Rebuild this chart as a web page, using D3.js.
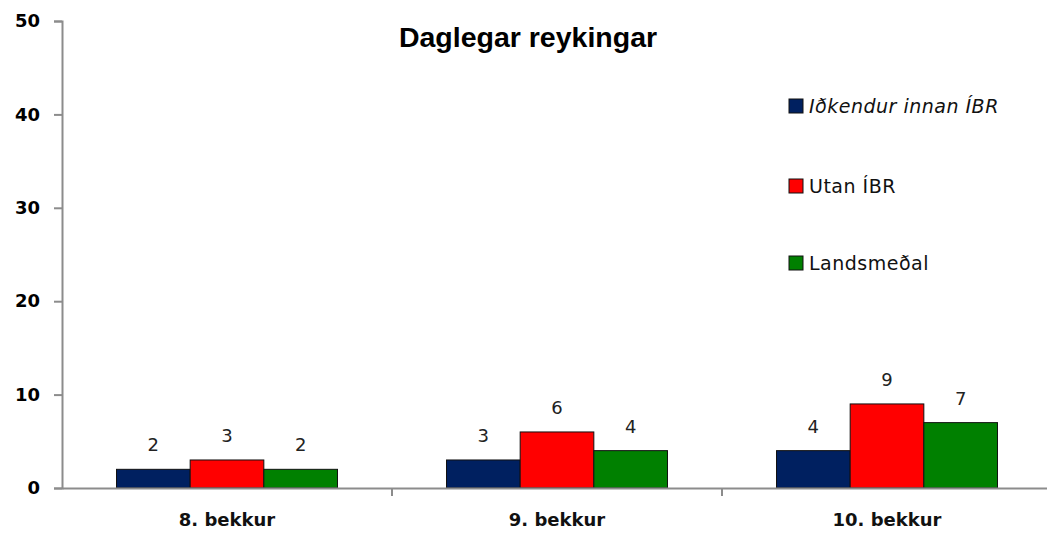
<!DOCTYPE html>
<html>
<head>
<meta charset="utf-8">
<script src="https://cdn.jsdelivr.net/npm/d3@7"></script>
<style>
  html, body { margin: 0; padding: 0; background: #fff; }
  svg { display: block; }
</style>
</head>
<body>
<svg id="chart" width="1047" height="533"></svg>
<script>
const title = "Daglegar reykingar";
const categories = ["8. bekkur", "9. bekkur", "10. bekkur"];
const seriesNames = ["Iðkendur innan ÍBR", "Utan ÍBR", "Landsmeðal"];
const seriesColors = ["#002060", "#FF0000", "#008000"];
const innanIBR = [2, 3, 4];
const utanIBR = [3, 6, 9];
const landsmedal = [2, 4, 7];
const yTicks = [0, 10, 20, 30, 40, 50];

const seriesValues = [innanIBR, utanIBR, landsmedal];

const svg = d3.select("#chart");
const mLeft = 62, mRight = 1052, mTop = 21, mBottom = 488;

const x = d3.scaleBand().domain(categories).range([mLeft, mRight]).padding(0);
const xs = d3.scaleBand().domain(seriesNames).range([0, x.bandwidth()])
  .paddingInner(0).paddingOuter(0.74);
const y = d3.scaleLinear().domain([0, 50]).range([mBottom, mTop]);

// Y axis
const yAxis = svg.append("g").attr("transform", `translate(${mLeft},0)`)
  .call(d3.axisLeft(y).tickValues(yTicks).tickSize(8).tickPadding(14));
yAxis.select(".domain").attr("stroke", "#8c8c8c").attr("stroke-width", 2);
yAxis.selectAll(".tick line").attr("stroke", "#8c8c8c").attr("stroke-width", 2);
yAxis.selectAll(".tick text")
  .attr("font-family", "DejaVu Sans").attr("font-weight", "bold")
  .attr("font-size", 18).attr("fill", "#000");

// Bars
const groups = svg.append("g").selectAll("g").data(categories).join("g")
  .attr("transform", d => `translate(${x(d)},0)`);

groups.selectAll("rect")
  .data((c, ci) => seriesNames.map((s, si) => ({ s, si, v: seriesValues[si][ci] })))
  .join("rect")
  .attr("x", d => xs(d.s))
  .attr("y", d => y(d.v))
  .attr("width", xs.bandwidth())
  .attr("height", d => y(0) - y(d.v))
  .attr("fill", d => seriesColors[d.si])
  .attr("stroke", "#111")
  .attr("stroke-width", 1);

groups.selectAll("text.val")
  .data((c, ci) => seriesNames.map((s, si) => ({ s, si, v: seriesValues[si][ci] })))
  .join("text")
  .attr("class", "val")
  .attr("x", d => xs(d.s) + xs.bandwidth() / 2)
  .attr("y", d => y(d.v) - 18)
  .attr("text-anchor", "middle")
  .attr("font-family", "DejaVu Sans")
  .attr("font-size", 18)
  .attr("fill", "#222")
  .text(d => d.v);

// X axis
const xAxis = svg.append("g").attr("transform", `translate(0,${mBottom})`)
  .call(d3.axisBottom(x).tickSize(0).tickPadding(25));
xAxis.select(".domain").attr("stroke", "#8c8c8c").attr("stroke-width", 2);
xAxis.selectAll(".tick text")
  .attr("font-family", "DejaVu Sans").attr("font-weight", "bold")
  .attr("font-size", 18).attr("fill", "#111");
// category boundary ticks
svg.append("g").selectAll("line").data(categories.slice(1)).join("line")
  .attr("x1", d => x(d)).attr("x2", d => x(d))
  .attr("y1", mBottom).attr("y2", mBottom + 8)
  .attr("stroke", "#8c8c8c").attr("stroke-width", 2);

// Title
svg.append("text")
  .attr("x", 528).attr("y", 47)
  .attr("text-anchor", "middle")
  .attr("font-family", "Liberation Sans").attr("font-weight", "bold")
  .attr("font-size", 28.5).attr("fill", "#000")
  .text(title);

// Legend
const legendY = [106, 186, 263];
const legend = svg.append("g").selectAll("g").data(seriesNames).join("g")
  .attr("transform", (d, i) => `translate(789,${legendY[i]})`);
legend.append("rect")
  .attr("x", 0).attr("y", -7).attr("width", 14).attr("height", 14)
  .attr("fill", (d, i) => seriesColors[i]).attr("stroke", "#111").attr("stroke-width", 1);
legend.append("text")
  .attr("x", 20).attr("y", 0).attr("dy", "0.35em")
  .attr("font-family", "DejaVu Sans").attr("font-size", 19)
  .attr("letter-spacing", 0.5)
  .attr("font-style", (d, i) => i === 0 ? "italic" : "normal")
  .attr("fill", "#111")
  .text(d => d);
</script>
</body>
</html>
